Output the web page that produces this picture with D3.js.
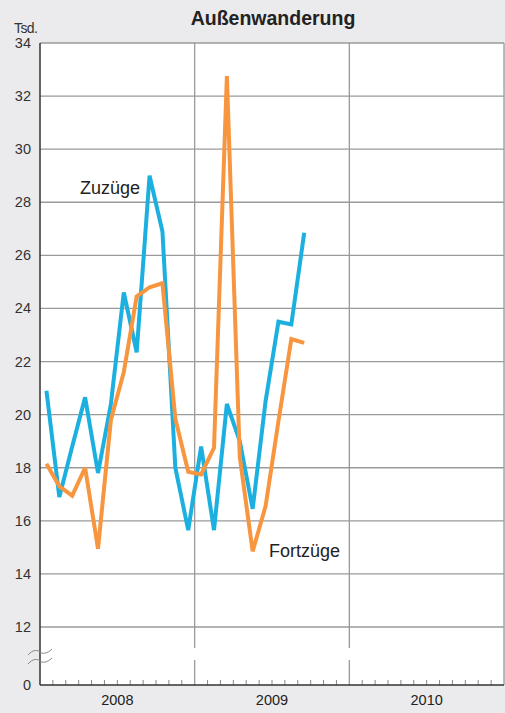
<!DOCTYPE html>
<html><head><meta charset="utf-8">
<script src="https://cdn.jsdelivr.net/npm/d3@7"></script>
<style>
html,body{margin:0;padding:0;background:#ebebed;}
svg{display:block;font-family:"Liberation Sans","Helvetica",Arial,sans-serif;}
</style></head>
<body>
<script>
const title = "Außenwanderung";
const unitLabel = "Tsd.";
const years = ["2008", "2009", "2010"];
const yTicks = [0, 12, 14, 16, 18, 20, 22, 24, 26, 28, 30, 32, 34];
// monthly values, Jan 2008 .. Sep 2009 (thousands)
const zuzuege = [20.9, 16.9, 18.8, 20.65, 17.8, 20.4, 24.6, 22.35, 29.0, 26.9, 18.0, 15.65,
                 18.8, 15.65, 20.4, 19.0, 16.45, 20.5, 23.5, 23.4, 26.85];
const fortzuege = [18.15, 17.3, 16.95, 18.0, 14.95, 19.8, 21.6, 24.45, 24.8, 24.95, 19.85, 17.85,
                   17.75, 18.75, 32.75, 18.4, 14.85, 16.55, 19.75, 22.85, 22.7];
const seriesNames = ["Zuzüge", "Fortzüge"];

(function () {
const W = 505, H = 713;
const pLeft = 40, pRight = 504, pTop = 43, pBottom = 685;
const svg = d3.select("body").append("svg").attr("width", W).attr("height", H);

const nMonths = years.length * 12;
const x = d3.scaleLinear().domain([0, nMonths]).range([pLeft, pRight]);
const y = d3.scaleLinear().domain([0, 12, 34]).range([pBottom, 627, pTop]);

// plot background
svg.append("rect").attr("x", pLeft).attr("y", pTop).attr("width", pRight - pLeft).attr("height", pBottom - pTop).attr("fill", "#fff");

// horizontal grid
svg.append("g").selectAll("line").data(yTicks.filter(d => d > 0)).join("line")
  .attr("x1", pLeft).attr("x2", pRight).attr("y1", d => y(d)).attr("y2", d => y(d))
  .attr("stroke", "#9a9a9a").attr("stroke-width", 1.3);

// vertical year lines (with gap at break)
const yearEdges = d3.range(1, years.length + 1).map(i => i * 12);
const vg = svg.append("g");
yearEdges.forEach(m => {
  const xx = x(m);
  if (m === nMonths) {
    vg.append("line").attr("x1", xx).attr("x2", xx).attr("y1", pTop).attr("y2", pBottom).attr("stroke", "#9a9a9a").attr("stroke-width", 1.3);
  } else {
    vg.append("line").attr("x1", xx).attr("x2", xx).attr("y1", pTop).attr("y2", 648).attr("stroke", "#9a9a9a").attr("stroke-width", 1.3);
    vg.append("line").attr("x1", xx).attr("x2", xx).attr("y1", 660).attr("y2", pBottom).attr("stroke", "#9a9a9a").attr("stroke-width", 1.3);
  }
});

// month ticks
svg.append("g").selectAll("line").data(d3.range(1, nMonths).filter(m => m % 12 !== 0)).join("line")
  .attr("x1", d => x(d)).attr("x2", d => x(d)).attr("y1", pBottom).attr("y2", pBottom - 5)
  .attr("stroke", "#888").attr("stroke-width", 1);

// axes lines
svg.append("line").attr("x1", pLeft).attr("x2", pLeft).attr("y1", pTop).attr("y2", pBottom).attr("stroke", "#333").attr("stroke-width", 1.5);
svg.append("line").attr("x1", pLeft).attr("x2", pRight).attr("y1", pBottom).attr("y2", pBottom).attr("stroke", "#333").attr("stroke-width", 1.5);

// break symbol
const wave = d => `M28,${d + 3} C33,${d - 3} 38,${d - 2} 40,${d} S47,${d + 2} 52,${d - 3}`;
[652, 661].forEach(d => {
  svg.append("path").attr("d", wave(d)).attr("fill", "none").attr("stroke", "#888").attr("stroke-width", 1);
});

// y tick labels
svg.append("g").selectAll("text").data(yTicks).join("text")
  .attr("x", 31).attr("y", d => y(d) + 5).attr("text-anchor", "end")
  .attr("font-size", 14.5).attr("fill", "#333").text(d => d);

svg.append("text").attr("x", 14).attr("y", 33).attr("font-size", 14).attr("fill", "#333").attr("letter-spacing", -0.6).text(unitLabel);

// year labels
svg.append("g").selectAll("text").data(years).join("text")
  .attr("x", (d, i) => x(i * 12 + 6)).attr("y", 705).attr("text-anchor", "middle")
  .attr("font-size", 14.5).attr("fill", "#222").text(d => d);

// title
svg.append("text").attr("x", 273).attr("y", 25).attr("text-anchor", "middle")
  .attr("font-size", 19.5).attr("font-weight", "bold").attr("fill", "#222").text(title);

// lines
const line = d3.line().x((d, i) => x(i + 0.5)).y(d => y(d));
svg.append("path").datum(zuzuege).attr("d", line).attr("fill", "none")
  .attr("stroke", "#1bb0e0").attr("stroke-width", 4).attr("stroke-linejoin", "miter").attr("stroke-miterlimit", 3);
svg.append("path").datum(fortzuege).attr("d", line).attr("fill", "none")
  .attr("stroke", "#f7963f").attr("stroke-width", 4).attr("stroke-linejoin", "miter").attr("stroke-miterlimit", 3);

// series labels
svg.append("text").attr("x", 80).attr("y", 194).attr("font-size", 18).attr("fill", "#222").text(seriesNames[0]);
svg.append("text").attr("x", 269).attr("y", 557).attr("font-size", 18).attr("fill", "#222").text(seriesNames[1]);
})();
</script>
</body></html>
